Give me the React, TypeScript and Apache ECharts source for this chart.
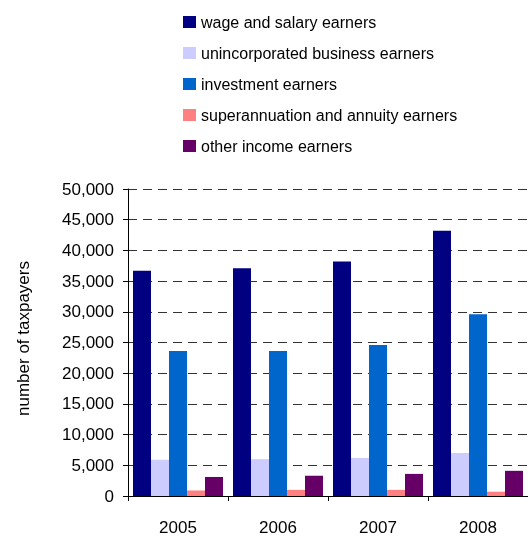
import React, { useEffect, useRef } from "react";
import * as echarts from "echarts";

const years = ["2005", "2006", "2007", "2008"];
const seriesNames = [
  "wage and salary earners",
  "unincorporated business earners",
  "investment earners",
  "superannuation and annuity earners",
  "other income earners",
];
const wage = [36700, 37100, 38200, 43200];
const unincorporated = [5900, 6000, 6200, 7000];
const investment = [23600, 23600, 24600, 29600];
const superannuation = [900, 1000, 1000, 700];
const other = [3100, 3300, 3600, 4100];
const colors = ["#000080", "#CCCCFF", "#0066CC", "#FF8080", "#660066"];

export default function App() {
  const ref = useRef<HTMLDivElement>(null);
  useEffect(() => {
    if (!ref.current) return;
    const chart = echarts.init(ref.current, null, { renderer: "svg" });
    const values = [wage, unincorporated, investment, superannuation, other];
    const font = "'Liberation Sans', Arial, sans-serif";
    chart.setOption({
      animation: false,
      textStyle: { fontFamily: font },
      legend: {
        orient: "vertical",
        left: 183,
        top: 13,
        padding: 0,
        itemWidth: 13,
        itemHeight: 12,
        itemGap: 13,
        icon: "rect",
        data: seriesNames,
        textStyle: { fontSize: 16, color: "#000", lineHeight: 18, fontFamily: font },
      },
      grid: { left: 128, top: 189, width: 407, height: 308 },
      xAxis: {
        type: "category",
        data: years,
        axisLine: { show: true, lineStyle: { color: "#000", width: 1 } },
        axisTick: { show: true, length: 5, lineStyle: { color: "#000" } },
        axisLabel: { fontSize: 17, color: "#000", margin: 23, fontFamily: font },
        splitLine: { show: false },
      },
      yAxis: {
        type: "value",
        min: 0,
        max: 50000,
        interval: 5000,
        name: "number of taxpayers",
        nameLocation: "middle",
        nameGap: 96,
        nameTextStyle: { fontSize: 17, color: "#000", fontFamily: font, padding: [0, 0, 0, 8] },
        axisLine: { show: true, lineStyle: { color: "#000", width: 1 } },
        axisTick: { show: true, length: 5, lineStyle: { color: "#000" } },
        axisLabel: {
          fontSize: 17,
          color: "#000",
          margin: 14,
          fontFamily: font,
          formatter: (v: number) => v.toLocaleString("en-US"),
        },
        splitLine: { show: true, lineStyle: { color: "#333", type: [9, 6], width: 1 } },
      },
      series: seriesNames.map((name, i) => ({
        name,
        type: "bar",
        data: values[i],
        barWidth: 18,
        barGap: "0%",
        itemStyle: { color: colors[i] },
      })),
    });
    return () => chart.dispose();
  }, []);
  return <div ref={ref} style={{ position: "fixed", left: 0, top: 0, width: 528, height: 536 }} />;
}
